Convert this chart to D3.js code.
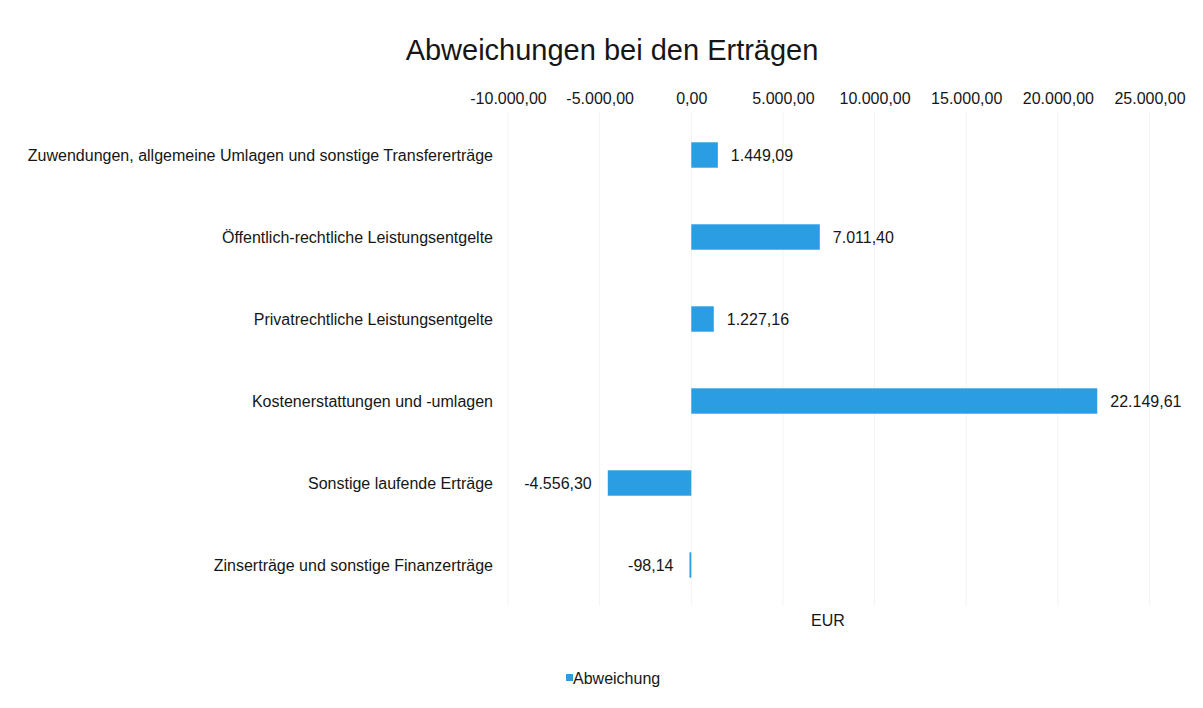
<!DOCTYPE html>
<html><head><meta charset="utf-8">
<script src="https://cdn.jsdelivr.net/npm/d3@7"></script>
<style>body{margin:0;background:#fff;font-family:"Liberation Sans",Arial,sans-serif;}</style>
</head><body><svg id="c" width="1203" height="708"></svg>
<script>
const categories = [
  "Zuwendungen, allgemeine Umlagen und sonstige Transfererträge",
  "Öffentlich-rechtliche Leistungsentgelte",
  "Privatrechtliche Leistungsentgelte",
  "Kostenerstattungen und -umlagen",
  "Sonstige laufende Erträge",
  "Zinserträge und sonstige Finanzerträge"
];
const values = [1449.09, 7011.40, 1227.16, 22149.61, -4556.30, -98.14];
const tickValues = [-10000, -5000, 0, 5000, 10000, 15000, 20000, 25000];
const seriesName = "Abweichung";
const axisTitle = "EUR";
const title = "Abweichungen bei den Erträgen";

const svg = d3.select("#c");
const FF = "Liberation Sans, Arial, sans-serif";
const TC = "#161616";
const fmt = v => {
  const s = Math.abs(v).toFixed(2).split(".");
  const int = s[0].replace(/\B(?=(\d{3})+(?!\d))/g, ".");
  return (v < 0 ? "-" : "") + int + "," + s[1];
};
const x = d3.scaleLinear().domain([-10000, 25000]).range([508, 1149.5]);
const y = d3.scaleBand().domain(categories).range([114, 606]).paddingInner(0.69).paddingOuter(0.345);
const color = "#2b9ee3";

svg.append("text").attr("x", 612).attr("y", 60).attr("text-anchor", "middle")
  .attr("font-family", FF).attr("font-size", 29).attr("fill", TC).text(title);

// gridlines
svg.append("g").selectAll("line").data(tickValues).join("line")
  .attr("x1", d => x(d)).attr("x2", d => x(d)).attr("y1", 112).attr("y2", 606)
  .attr("stroke", "#f3f3f3").attr("stroke-width", 1);

// top axis
const ax = svg.append("g").attr("transform", "translate(0,104)")
  .call(d3.axisTop(x).tickValues(tickValues).tickFormat(fmt).tickSize(0).tickPadding(0));
ax.select(".domain").remove();
ax.selectAll("text").attr("font-size", 16).attr("fill", TC).attr("font-family", FF);

// category labels
svg.append("g").selectAll("text").data(categories).join("text")
  .attr("x", 493).attr("y", d => y(d) + y.bandwidth() / 2).attr("dy", "0.35em")
  .attr("text-anchor", "end").attr("font-family", FF).attr("font-size", 16).attr("fill", TC).text(d => d);

const data = categories.map((c, i) => ({c, v: values[i]}));
svg.append("g").selectAll("rect").data(data).join("rect")
  .attr("x", d => x(Math.min(0, d.v))).attr("width", d => Math.max(1.5, Math.abs(x(d.v) - x(0))))
  .attr("y", d => y(d.c)).attr("height", y.bandwidth()).attr("fill", color);

svg.append("g").selectAll("text").data(data).join("text")
  .attr("x", d => d.v >= 0 ? x(d.v) + 13 : x(d.v) - 16)
  .attr("y", d => y(d.c) + y.bandwidth() / 2).attr("dy", "0.35em")
  .attr("text-anchor", d => d.v >= 0 ? "start" : "end")
  .attr("font-family", FF).attr("font-size", 16).attr("fill", TC).text(d => fmt(d.v));

svg.append("text").attr("x", 828).attr("y", 626).attr("text-anchor", "middle")
  .attr("font-family", FF).attr("font-size", 16).attr("fill", TC).text(axisTitle);

const lg = svg.append("g").attr("transform", "translate(566,678)");
lg.append("rect").attr("x", 0).attr("y", -4).attr("width", 7).attr("height", 7).attr("fill", color);
lg.append("text").attr("x", 7).attr("y", 0).attr("dy", "0.35em").attr("font-family", FF).attr("font-size", 16)
  .attr("fill", TC).text(seriesName);
</script></body></html>
